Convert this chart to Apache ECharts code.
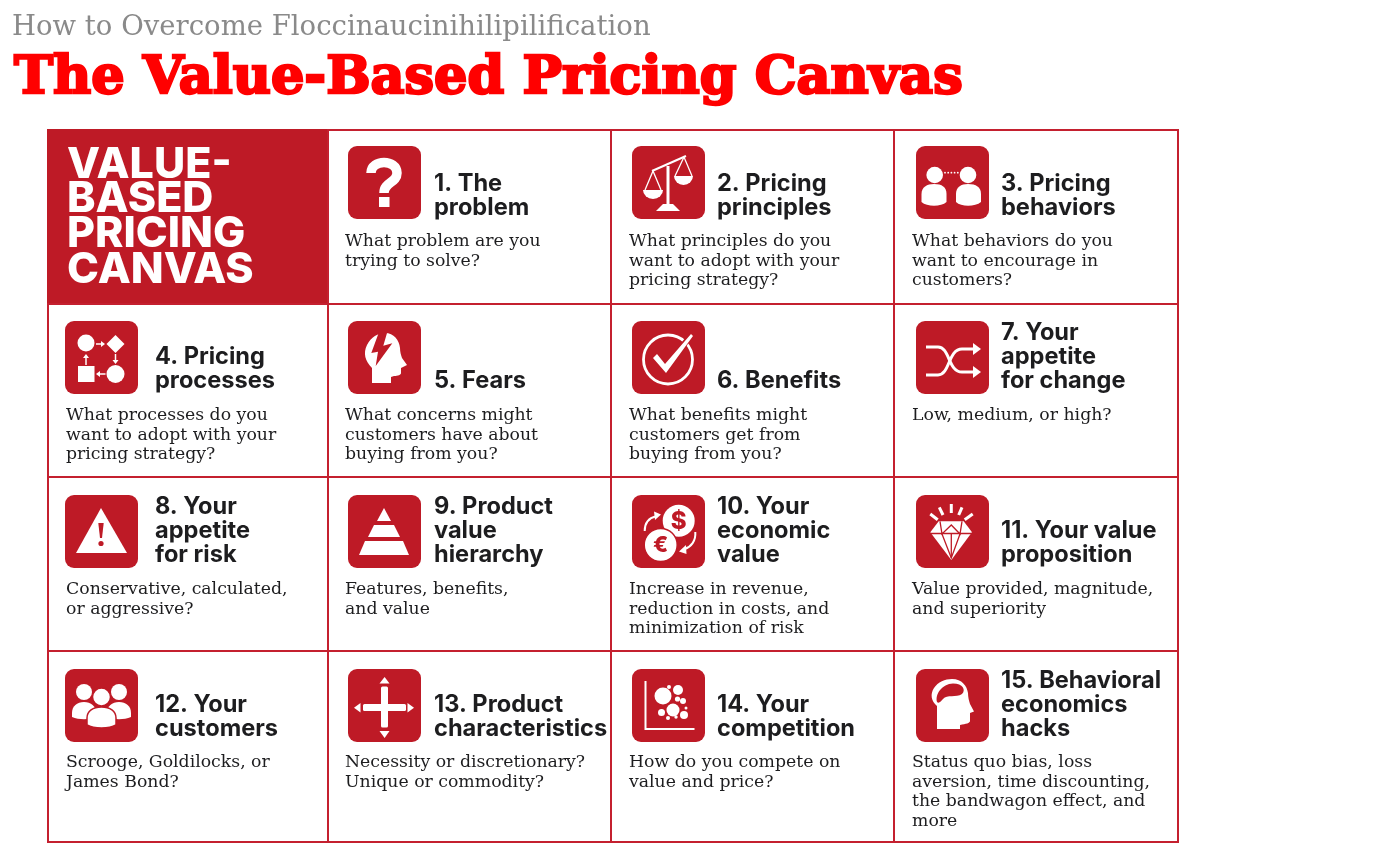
<!DOCTYPE html>
<html lang="en">
<head>
<meta charset="UTF-8">
<title>The Value-Based Pricing Canvas</title>
<style>
    html,body{padding:0;margin:0;background:#fff;}
    #chart{width:1378px;height:865px;}
</style>
<script src="https://cdn.jsdelivr.net/npm/echarts@6/dist/echarts.min.js"></script>
</head>
<body>
<div id="chart"></div>
<script>
var pageKicker = 'How to Overcome Floccinaucinihilipilification';
var pageTitle = 'The Value-Based Pricing Canvas';
var panelLines = ['VALUE-', 'BASED', 'PRICING', 'CANVAS'];

var cellIcons = ['question', 'scale', 'pair', 'process', 'fear', 'check', 'shuffle', 'warning',
    'pyramid', 'coins', 'diamond', 'crowd', 'cross', 'bubbles', 'brain'];

var cellHeadings = [
    ['1. The', 'problem'],
    ['2. Pricing', 'principles'],
    ['3. Pricing', 'behaviors'],
    ['4. Pricing', 'processes'],
    ['5. Fears'],
    ['6. Benefits'],
    ['7. Your', 'appetite', 'for change'],
    ['8. Your', 'appetite', 'for risk'],
    ['9. Product', 'value', 'hierarchy'],
    ['10. Your', 'economic', 'value'],
    ['11. Your value', 'proposition'],
    ['12. Your', 'customers'],
    ['13. Product', 'characteristics'],
    ['14. Your', 'competition'],
    ['15. Behavioral', 'economics', 'hacks']
];

var cellQuestions = [
    ['What problem are you', 'trying to solve?'],
    ['What principles do you', 'want to adopt with your', 'pricing strategy?'],
    ['What behaviors do you', 'want to encourage in', 'customers?'],
    ['What processes do you', 'want to adopt with your', 'pricing strategy?'],
    ['What concerns might', 'customers have about', 'buying from you?'],
    ['What benefits might', 'customers get from', 'buying from you?'],
    ['Low, medium, or high?'],
    ['Conservative, calculated,', 'or aggressive?'],
    ['Features, benefits,', 'and value'],
    ['Increase in revenue,', 'reduction in costs, and', 'minimization of risk'],
    ['Value provided, magnitude,', 'and superiority'],
    ['Scrooge, Goldilocks, or', 'James Bond?'],
    ['Necessity or discretionary?', 'Unique or commodity?'],
    ['How do you compete on', 'value and price?'],
    ['Status quo bias, loss', 'aversion, time discounting,', 'the bandwagon effect, and', 'more']
];

// table layout, in axis units (the axes run 1:1 with the page)
var colEdges = [48, 328, 611, 894, 1178];
var rowEdges = [130, 304, 477, 651, 842];
var iconX = [65, 348, 632, 916];
var iconY = [146, 321, 495, 669];
var headX = [155, 434, 717, 1001];
var headBottom = [208, 381, 555, 729];
var askX = [66, 345, 629, 912];
var askTop = [242, 416, 590, 763];

var RED = '#BE1A26';
var LINE = '#C4202F';
var WHITE = '#fff';
var INK = '#1d1d1f';
var HEAD_FONT = '700 23.6px Inter';
var ASK_FONT = '17.3px "DejaVu Serif"';

function poly(points, fill) {
    return {type: 'polygon', shape: {points: points}, style: {fill: fill || WHITE}};
}
function stroke(points, width, color) {
    return {type: 'polyline', shape: {points: points}, style: {fill: null, stroke: color || WHITE, lineWidth: width || 2}};
}
function dot(cx, cy, r, fill) {
    return {type: 'circle', shape: {cx: cx, cy: cy, r: r}, style: {fill: fill || WHITE}};
}
function svg(d, fill, line, width) {
    return {type: 'path', shape: {pathData: d}, style: {fill: fill === undefined ? WHITE : fill, stroke: line || null, lineWidth: width || 0}};
}
function box(x, y, w, h, r) {
    return {type: 'rect', shape: {x: x, y: y, width: w, height: h, r: r || 0}, style: {fill: WHITE}};
}
function glyph(text, x, y, font, fill) {
    return {type: 'text', style: {text: text, x: x, y: y, font: font, fill: fill || WHITE, align: 'center', verticalAlign: 'middle'}};
}
function arrow(x1, y1, x2, y2) {
    var len = Math.sqrt((x2 - x1) * (x2 - x1) + (y2 - y1) * (y2 - y1));
    var ux = (x2 - x1) / len, uy = (y2 - y1) / len;
    return [
        stroke([[x1, y1], [x2 - ux * 3, y2 - uy * 3]], 1.5),
        poly([[x2, y2], [x2 - ux * 4 - uy * 3, y2 - uy * 4 + ux * 3], [x2 - ux * 4 + uy * 3, y2 - uy * 4 - ux * 3]])
    ];
}

// pictograms, drawn in a 73 x 73 box
var iconParts = {
    question: function () {
        return [
            svg('M23 27 C23 13 49 13 49 27 C49 37 36 36 36 47', null, WHITE, 9.5),
            box(31, 51, 10.5, 10)
        ];
    },
    scale: function () {
        return [
            stroke([[20, 25], [54, 10]], 2),
            box(34.5, 20, 3, 41),
            poly([[31, 58], [41, 58], [48, 65], [24, 65]]),
            stroke([[13, 44], [21, 25], [29, 44]], 1.3),
            stroke([[43, 30], [52, 11], [60, 30]], 1.3),
            svg('M11 44 L31 44 A10 9 0 0 1 11 44 Z'),
            svg('M42 30 L61 30 A9.5 9 0 0 1 42 30 Z')
        ];
    },
    pair: function () {
        return [
            dot(18.7, 29, 8.3), dot(52, 29, 8.3),
            dot(29, 26.7, .9), dot(32.2, 26.7, .9), dot(35.4, 26.7, .9), dot(38.6, 26.7, .9), dot(41.8, 26.7, .9),
            svg('M5.5 48 C5.5 41 11 38 18 38 C26 38 30.5 41 30.5 48 L30.5 56 C25 61 11 61 5.5 56 Z'),
            svg('M40 48 C40 41 45 38 52 38 C60 38 65 41 65 48 L65 56 C59 61 45 61 40 56 Z')
        ];
    },
    process: function () {
        return [
            dot(21, 22, 8.5),
            poly([[50.5, 14], [59.5, 23], [50.5, 32], [41.5, 23]]),
            dot(50.5, 53, 9),
            box(13, 45, 16.5, 16)
        ].concat(arrow(31, 23, 40, 23), arrow(50.5, 33, 50.5, 43), arrow(40.5, 53, 31, 53), arrow(21, 44, 21, 33));
    },
    fear: function () {
        return [
            svg('M24 62 L24 47 C17 40 15 32 19 24 C23 16 30 12 37 12 C46 12 51 19 52 27 C52 31 53 34 54 37 L59 44 L53 47 L53 52 C53 54 50 55 46 55 L43 56 L43 62 Z'),
            poly([[31, 11], [23.3, 32], [30, 30.7], [27.7, 45], [44.3, 22.3], [35.3, 24.7], [39.3, 11]], RED)
        ];
    },
    check: function () {
        return [
            {type: 'circle', shape: {cx: 36, cy: 38.5, r: 24.5}, style: {fill: null, stroke: WHITE, lineWidth: 2.8}},
            poly([[19, 37], [24, 31], [33, 41], [60, 9], [63, 13], [34, 54]], RED),
            poly([[21, 37], [25, 33], [33, 43], [59, 13], [61, 15], [34, 52]], WHITE)
        ];
    },
    shuffle: function () {
        return [
            svg('M10 26 L22 26 C34 26 32 51 46 51 L59 51', null, WHITE, 3),
            svg('M10 54 L22 54 C34 54 32 28 46 28 L59 28', null, WHITE, 3),
            poly([[57, 22], [65, 28], [57, 34]]),
            poly([[57, 45], [65, 51], [57, 57]])
        ];
    },
    warning: function () {
        return [
            poly([[36, 13], [62, 58], [11, 58]]),
            poly([[33.3, 28], [38.7, 28], [37, 43], [35, 43]], RED),
            dot(36, 48.5, 2.6, RED)
        ];
    },
    pyramid: function () {
        return [
            poly([[36, 13], [43, 26], [29, 26]]),
            poly([[26, 30], [46, 30], [52, 42], [20, 42]]),
            poly([[17, 46], [55, 46], [61, 60], [11, 60]])
        ];
    },
    coins: function () {
        return [
            dot(46.7, 25.7, 16),
            {type: 'circle', shape: {cx: 28.7, cy: 50, r: 16.5}, style: {fill: WHITE, stroke: RED, lineWidth: 1.5}},
            glyph('$', 46.7, 26.5, '800 24px Inter', RED),
            glyph('€', 28.7, 50.5, '800 22px Inter', RED),
            svg('M12.7 36 C12.7 28 17 23 24 21.3', null, WHITE, 2),
            poly([[29, 19.5], [22, 16.5], [23, 25]]),
            svg('M63.3 37 C64 46 59 52 52.7 54', null, WHITE, 2),
            poly([[47, 56.5], [54, 50], [54.5, 59]])
        ];
    },
    diamond: function () {
        return [
            stroke([[35.3, 9], [35.3, 18]], 3),
            stroke([[23.3, 12.3], [27, 20]], 3),
            stroke([[46, 12.3], [42.7, 20]], 3),
            stroke([[14.3, 19], [21.7, 24.7]], 3),
            stroke([[56.7, 19], [48.7, 24.7]], 3),
            poly([[22.7, 26.3], [47.7, 26.3], [56, 37.3], [35.3, 65], [14.3, 37.3]]),
            stroke([[14.3, 38.5], [56, 38.5]], 1.3, RED),
            stroke([[26, 39], [35.3, 63], [44, 39]], 1.3, RED),
            stroke([[35.3, 39], [35.3, 63]], 1.3, RED),
            stroke([[24, 26.3], [26, 39], [35.3, 30], [44, 39], [46, 26.3]], 1.3, RED)
        ];
    },
    crowd: function () {
        return [
            dot(19, 23, 8), dot(54, 23, 8),
            svg('M7 44 C7 37 12 33 19 33 C26 33 31 37 31 44 L31 48 C24 51 14 51 7 48 Z'),
            svg('M42 44 C42 37 47 33 54 33 C61 33 66 37 66 44 L66 48 C59 51 49 51 42 48 Z'),
            {type: 'circle', shape: {cx: 36.5, cy: 28, r: 9}, style: {fill: WHITE, stroke: RED, lineWidth: 1.5}},
            svg('M22 49 C22 42 28 38 36.5 38 C45 38 51 42 51 49 L51 56 C44 60 29 60 22 56 Z', WHITE, RED, 1.5)
        ];
    },
    cross: function () {
        return [
            box(33, 17.5, 7, 41, 1.5),
            box(15, 35, 43, 7, 1.5),
            poly([[36.6, 8], [41.5, 14.5], [31.5, 14.5]]),
            poly([[36.6, 69], [41.5, 62], [31.5, 62]]),
            poly([[6, 38.8], [12.5, 34], [12.5, 43.5]]),
            poly([[66, 38.8], [59.5, 34], [59.5, 43.5]])
        ];
    },
    bubbles: function () {
        return [
            stroke([[13.5, 12], [13.5, 60], [62.5, 60]], 2),
            dot(31, 27, 8.5), dot(46, 21, 5), dot(37, 18, 2), dot(45.5, 30, 2.6), dot(51, 32, 3),
            dot(41, 41, 6.5), dot(29.5, 43.5, 3.5), dot(52, 46, 4), dot(36, 49, 2), dot(44, 48, 1.7), dot(54, 39, 1.5)
        ];
    },
    brain: function () {
        return [
            svg('M21 60 L21 37 C15 32 14 25 18 19 C22 13 29 10 36 10 C46 10 51 17 52 24 C52 28 53 32 54 35 L58 42.5 L54 44 L54 52 C54 54 50 55 44 56 L44 60 Z'),
            svg('M21 33 C19 25 26 15 37 14.5 C47 14.5 50 21 46 25 C40 29 31 25 27 30 C25 32 23 35 21 33 Z', RED)
        ];
    }
};

function headingLines(index, col, row) {
    var lines = cellHeadings[index];
    return lines.map(function (line, i) {
        var y = headBottom[row] - (lines.length - 1 - i) * 24;
        return {type: 'text', style: {text: line, x: headX[col], y: y, fill: INK, font: HEAD_FONT, align: 'left', verticalAlign: 'middle'}};
    });
}

function questionLines(index, col, row) {
    return cellQuestions[index].map(function (line, i) {
        return {type: 'text', style: {text: line, x: askX[col], y: askTop[row] + i * 19.5, fill: INK, font: ASK_FONT, align: 'left', verticalAlign: 'middle'}};
    });
}

function renderPanel(api) {
    var a = api.coord([colEdges[0], rowEdges[0]]);
    var b = api.coord([colEdges[1], rowEdges[1]]);
    var kids = [{type: 'rect', shape: {x: a[0], y: a[1], width: b[0] - a[0], height: b[1] - a[1]}, style: {fill: RED, stroke: RED, lineWidth: 2}}];
    var panelY = [165, 199, 234, 270];
    panelLines.forEach(function (line, i) {
        var p = api.coord([67, panelY[i]]);
        kids.push({type: 'text', style: {text: line, x: p[0], y: p[1], fill: WHITE, font: '800 43px Inter', align: 'left', verticalAlign: 'middle'}});
    });
    return {type: 'group', children: kids};
}

function renderCell(params, api) {
    var i = params.dataIndex;
    if (i === 0) {
        return renderPanel(api);
    }
    var index = i - 1;
    var col = i % 4;
    var row = Math.floor(i / 4);
    var a = api.coord([colEdges[col], rowEdges[row]]);
    var b = api.coord([colEdges[col + 1], rowEdges[row + 1]]);
    var c = api.coord([iconX[col], iconY[row]]);
    var kids = [{type: 'rect', shape: {x: a[0], y: a[1], width: b[0] - a[0], height: b[1] - a[1]}, style: {fill: WHITE, stroke: LINE, lineWidth: 2}}];
    kids.push({
        type: 'group', x: c[0], y: c[1],
        children: [{type: 'rect', shape: {x: 0, y: 0, width: 73, height: 73, r: 9}, style: {fill: RED}}].concat(iconParts[cellIcons[index]]())
    });
    return {type: 'group', children: kids.concat(headingLines(index, col, row), questionLines(index, col, row))};
}

var chart = echarts.init(document.getElementById('chart'));
chart.setOption({
    animation: false,
    backgroundColor: '#fff',
    title: [
        {text: pageKicker, left: 12, top: 14, padding: 0, textStyle: {fontFamily: 'DejaVu Serif', fontWeight: 'normal', fontSize: 27.5, color: '#8a8a8a'}},
        {text: pageTitle, left: 14, top: 53, padding: 0, textStyle: {fontFamily: 'DejaVu Serif', fontWeight: 'bold', fontSize: 52.5, color: '#ff0000', textBorderColor: '#ff0000', textBorderWidth: 2.5}}
    ],
    tooltip: {show: false},
    grid: {left: 0, right: 0, top: 0, bottom: 0},
    xAxis: {type: 'value', min: 0, max: 1378, show: false},
    yAxis: {type: 'value', min: 0, max: 865, inverse: true, show: false},
    series: [{
        type: 'custom',
        silent: true,
        clip: false,
        renderItem: renderCell,
        encode: {x: 0, y: 1},
        // panel first, then the fifteen numbered cells
        data: [panelLines[0]].concat(cellHeadings).map(function (d, i) {
            return [i % 4, Math.floor(i / 4)];
        })
    }]
});
</script>
</body>
</html>
